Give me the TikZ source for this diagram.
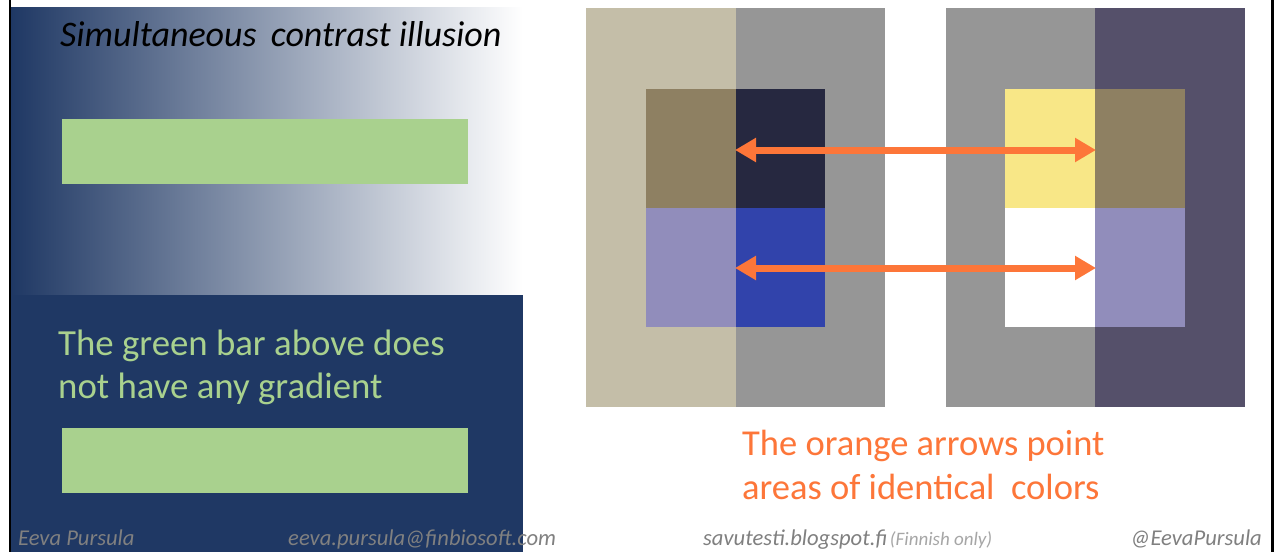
\documentclass[tikz,border=0pt]{standalone}
\usepackage{fontspec}
\setmainfont{Carlito}
\usetikzlibrary{arrows.meta}

\definecolor{navy}{RGB}{31,56,100}
\definecolor{barGreen}{RGB}{169,209,142}
\definecolor{sand}{RGB}{196,190,168}
\definecolor{midGray}{RGB}{150,150,150}
\definecolor{umber}{RGB}{142,128,98}
\definecolor{ink}{RGB}{38,40,64}
\definecolor{lavender}{RGB}{145,141,187}
\definecolor{royal}{RGB}{49,67,171}
\definecolor{dusk}{RGB}{85,80,106}
\definecolor{butter}{RGB}{248,231,135}
\definecolor{tangerine}{RGB}{253,118,57}
\definecolor{footGray}{RGB}{128,128,128}

\tikzset{
  txt/.style={anchor=base west, inner sep=0pt},
  foot/.style={txt, text=footGray, font=\itshape\fontsize{22.6}{26}\selectfont},
  greentxt/.style={txt, text=barGreen, font=\fontsize{36.8}{42}\selectfont},
  orangetxt/.style={txt, text=tangerine, font=\fontsize{36.5}{42}\selectfont},
  samearrow/.style={draw=tangerine, line width=7pt,
    {Triangle[length=21pt,width=23pt]}-{Triangle[length=21pt,width=23pt]}},
}

\begin{document}
\begin{tikzpicture}[x=1pt,y=-1pt]
\useasboundingbox (0,0) rectangle (1278,552);
\fill[white] (0,0) rectangle (1278,552);

% left panel: gradient background and plain background
\shade[left color=navy, right color=white] (11,7) rectangle (523,295);
\fill[navy] (11,295) rectangle (523,552);

% frame lines at the sides
\fill[black] (8.5,0) rectangle (11,552);
\fill[black] (1271,0) rectangle (1274,552);

% two identical green bars
\fill[barGreen] (62,119) rectangle (468,184);
\fill[barGreen] (62,428) rectangle (468,493);

\node[txt, font=\itshape\fontsize{36}{42}\selectfont] (title) at (60,46)
  {Simultaneous\,\ contrast illusion};
\node[greentxt] (g1) at (58,355) {The green bar above does};
\node[greentxt] (g2) at (58,398) {not have any gradient};

% left square group
\fill[sand] (586,8) rectangle (736,407);
\fill[midGray] (736,8) rectangle (885,407);
\fill[umber] (646,89) rectangle (736,208);
\fill[ink] (736,89) rectangle (825,208);
\fill[lavender] (646,208) rectangle (736,327);
\fill[royal] (736,208) rectangle (825,327);

% right square group
\fill[midGray] (946,8) rectangle (1095,407);
\fill[dusk] (1095,8) rectangle (1245,407);
\fill[butter] (1005,89) rectangle (1095,208);
\fill[umber] (1095,89) rectangle (1185,208);
\fill[white] (1005,208) rectangle (1095,327);
\fill[lavender] (1095,208) rectangle (1185,327);

% arrows linking equal colours
\coordinate (tl) at (735,150);
\coordinate (tr) at (1096,150);
\coordinate (bl) at (735,268);
\coordinate (br) at (1096,268);
\draw[samearrow] (tl) -- (tr);
\draw[samearrow] (bl) -- (br);

\node[orangetxt] (o1) at (742,455) {The orange arrows point};
\node[orangetxt] (o2) at (742,499) {areas of identical\ \ colors};

% footer
\node[foot] (name) at (18,545) {Eeva Pursula};
\node[foot] (mail) at (288,545) {eeva.pursula@finbiosoft.com};
\node[foot] (blog) at (703,545) {savutesti.blogspot.fi};
\node[txt, text=footGray!70, font=\itshape\fontsize{19}{22}\selectfont, anchor=base west]
  (fin) at ([xshift=2pt]blog.base east) {(Finnish only)};
\node[foot, anchor=base east] (tw) at (1262,545) {@EevaPursula};
\end{tikzpicture}
\end{document}
